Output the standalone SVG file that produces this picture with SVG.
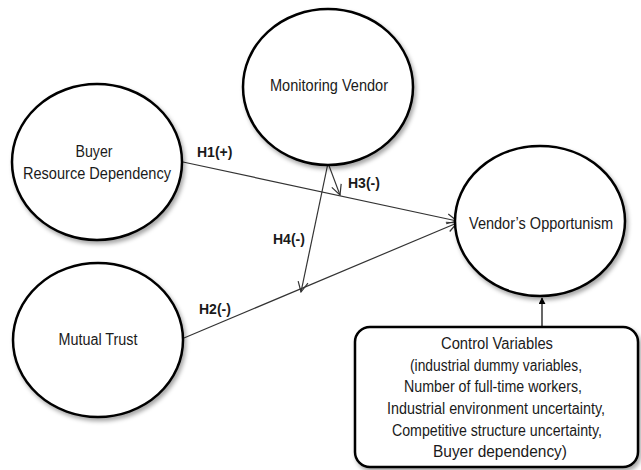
<svg xmlns="http://www.w3.org/2000/svg" width="641" height="470" viewBox="0 0 641 470">
<style>
.node ellipse{fill:#fff;stroke:#000;stroke-width:2.5;filter:url(#sh)}
.box{fill:#fff;stroke:#000;stroke-width:2.5;filter:url(#sh)}
.t{font-family:"Liberation Sans",Arial,sans-serif;font-size:16px;fill:#1a1a1a;text-anchor:middle}
.lbl{font-family:"Liberation Sans",Arial,sans-serif;font-size:14px;font-weight:bold;fill:#1a1a1a}
.c{stroke:#333;stroke-width:1.2;fill:none}
</style>
<defs>
<filter id="sh" x="-10%" y="-10%" width="130%" height="130%">
<feDropShadow dx="2" dy="3" stdDeviation="2" flood-color="#000" flood-opacity="0.35"/>
</filter>
<marker id="open" viewBox="0 0 12 12" refX="11" refY="6" markerWidth="12" markerHeight="12" markerUnits="userSpaceOnUse" orient="auto">
<path d="M1,1 L11,6 L1,11" fill="none" stroke="#333" stroke-width="1.2"/>
</marker>
<marker id="solid" viewBox="0 0 8 8" refX="7" refY="4" markerWidth="7" markerHeight="7" markerUnits="userSpaceOnUse" orient="auto">
<path d="M0,0 L8,4 L0,8 Z" fill="#000"/>
</marker>
</defs>
<g id="connectors">
<line class="c" x1="183" y1="162" x2="457" y2="221" marker-end="url(#open)"/>
<line class="c" x1="184" y1="338" x2="457" y2="223" marker-end="url(#open)"/>
<line class="c" x1="328" y1="163" x2="340" y2="195" marker-end="url(#open)"/>
<line class="c" x1="328" y1="163" x2="301" y2="292" marker-end="url(#open)"/>
<line x1="542" y1="327" x2="542" y2="298" stroke="#000" stroke-width="1.2" marker-end="url(#solid)"/>
<text class="lbl" x="197" y="157">H1(+)</text>
<text class="lbl" x="348" y="188">H3(-)</text>
<text class="lbl" x="273" y="244">H4(-)</text>
<text class="lbl" x="199" y="314">H2(-)</text>
</g>
<g id="monitoring" class="node">
<ellipse cx="328" cy="87" rx="85" ry="78"/>
<text class="t" x="329" y="91" textLength="118" lengthAdjust="spacingAndGlyphs">Monitoring Vendor</text>
</g>
<g id="buyer" class="node">
<ellipse cx="97" cy="162" rx="85" ry="78"/>
<text class="t" x="94" y="157" textLength="37" lengthAdjust="spacingAndGlyphs">Buyer</text>
<text class="t" x="97" y="179" textLength="148" lengthAdjust="spacingAndGlyphs">Resource Dependency</text>
</g>
<g id="trust" class="node">
<ellipse cx="98" cy="340" rx="85" ry="77"/>
<text class="t" x="98" y="345" textLength="79" lengthAdjust="spacingAndGlyphs">Mutual Trust</text>
</g>
<g id="opportunism" class="node">
<ellipse cx="540" cy="221" rx="85" ry="75"/>
<text class="t" x="541" y="229" textLength="144" lengthAdjust="spacingAndGlyphs">Vendor’s Opportunism</text>
</g>
<g id="controls">
<rect class="box" x="355" y="327" width="283" height="140" rx="15" ry="15"/>
<text class="t" x="497" y="349" textLength="112" lengthAdjust="spacingAndGlyphs">Control Variables</text>
<text class="t" x="496" y="371" textLength="172" lengthAdjust="spacingAndGlyphs">(industrial dummy variables,</text>
<text class="t" x="493" y="392" textLength="178" lengthAdjust="spacingAndGlyphs">Number of full-time workers,</text>
<text class="t" x="496" y="414" textLength="218" lengthAdjust="spacingAndGlyphs">Industrial environment uncertainty,</text>
<text class="t" x="497" y="436" textLength="210" lengthAdjust="spacingAndGlyphs">Competitive structure uncertainty,</text>
<text class="t" x="500" y="457" textLength="134" lengthAdjust="spacingAndGlyphs">Buyer dependency)</text>
</g>
</svg>
